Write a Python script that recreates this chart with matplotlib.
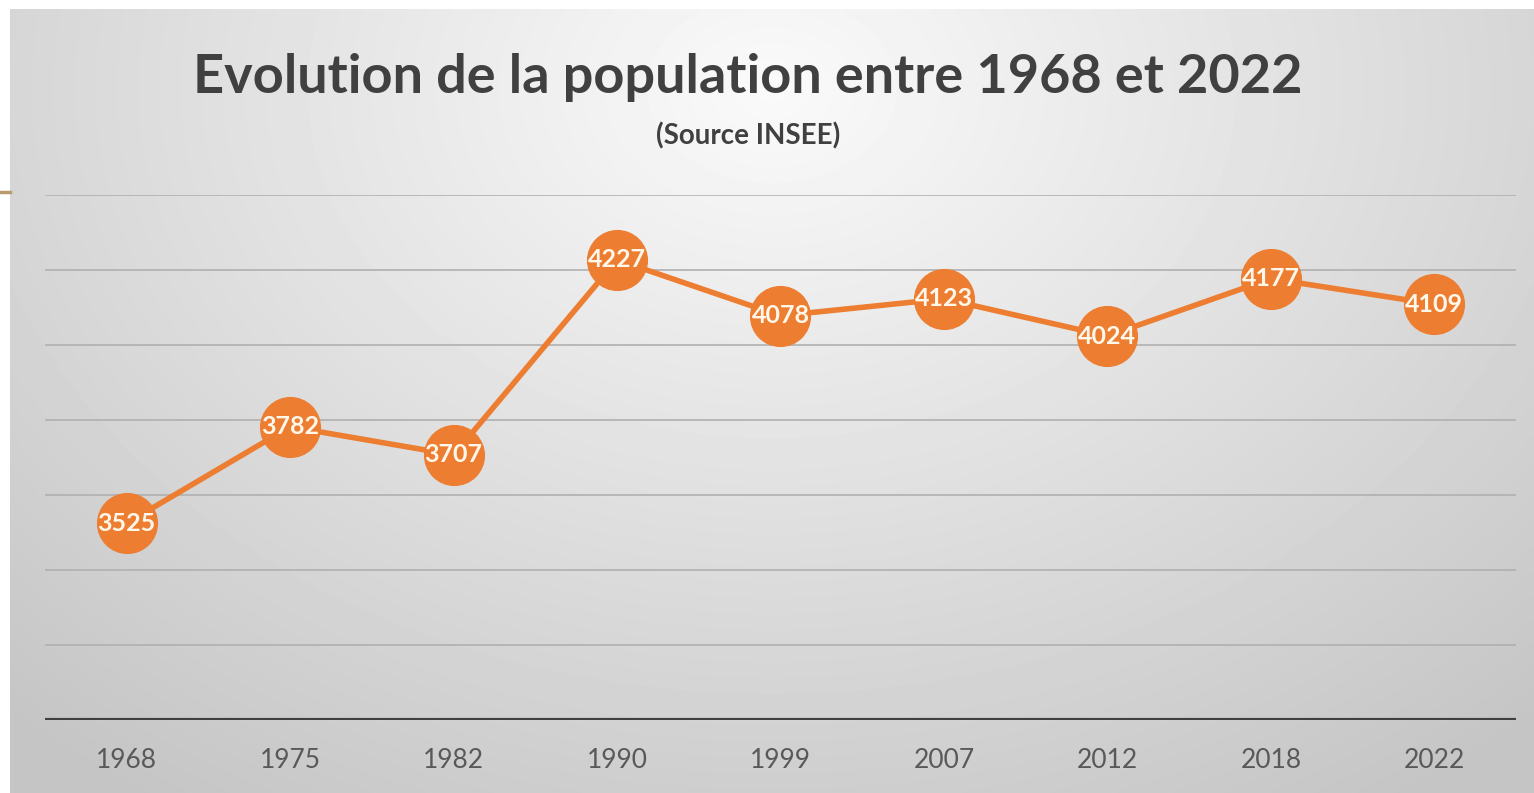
import numpy as np
import matplotlib.pyplot as plt
from matplotlib.lines import Line2D

years = ['1968', '1975', '1982', '1990', '1999', '2007', '2012', '2018', '2022']
population = [3525, 3782, 3707, 4227, 4078, 4123, 4024, 4177, 4109]
grid_levels = [3200, 3400, 3600, 3800, 4000, 4200, 4400]

W, H = 1534, 793
fig = plt.figure(figsize=(W / 100, H / 100), dpi=100)
fig.patch.set_facecolor('white')

# radial grey gradient behind the chart
bg = fig.add_axes([10 / W, 0, 1 - 10 / W, (H - 9) / H])
bg.set_axis_off()
gx, gy = np.meshgrid(np.linspace(0, 1, 400), np.linspace(0, 1, 200))
r = np.sqrt(((gx - 0.5) / 0.75) ** 2 + ((gy - 0.1) / 1.1) ** 2)
shade = np.clip(0.98 - 0.21 * r, 0.77, 1.0)
bg.imshow(shade, cmap='gray', vmin=0, vmax=1, aspect='auto',
          extent=[0, 1, 1, 0], interpolation='bicubic')
bg.set_xlim(0, 1)
bg.set_ylim(1, 0)

# small decorative line on the left edge
fig.add_artist(Line2D([0, 10 / W], [1 - 192 / H, 1 - 192 / H],
                      color='#b89c6c', lw=2.5))

ax = fig.add_axes([45 / W, 73 / H, (1516 - 45) / W, (720 - 195) / H])
ax.patch.set_alpha(0)
x = np.arange(len(years))

for g in grid_levels:
    ax.axhline(g, color='#b0b0b0', lw=1.2, zorder=1)
ax.axhline(3000, color='#404040', lw=3, zorder=2)

ax.plot(x, population, color='#ed7d31', lw=4, marker='o', markersize=43,
        markerfacecolor='#ed7d31', markeredgecolor='#ed7d31', zorder=3)
for xi, v in zip(x, population):
    ax.text(xi, v, str(v), ha='center', va='center', color='#fff8ea',
            fontsize=18, fontweight='bold', family='Lato', zorder=4)

ax.set_xlim(-0.5, len(years) - 0.5)
ax.set_ylim(3000, 4400)
ax.set_yticks([])
ax.set_xticks(x)
ax.set_xticklabels(years, family='Lato', fontsize=19, color='#595959')
ax.tick_params(axis='x', length=0, pad=20)
for s in ax.spines.values():
    s.set_visible(False)

fig.text(748 / W, 1 - 78 / H, 'Evolution de la population entre 1968 et 2022',
         ha='center', va='center', fontsize=39, fontweight='bold',
         family='Lato', color='#404040')
fig.text(748 / W, 1 - 136 / H, '(Source INSEE)', ha='center', va='center',
         fontsize=20, fontweight='bold', family='Lato', color='#404040')

fig.savefig('out.png', dpi=100)
